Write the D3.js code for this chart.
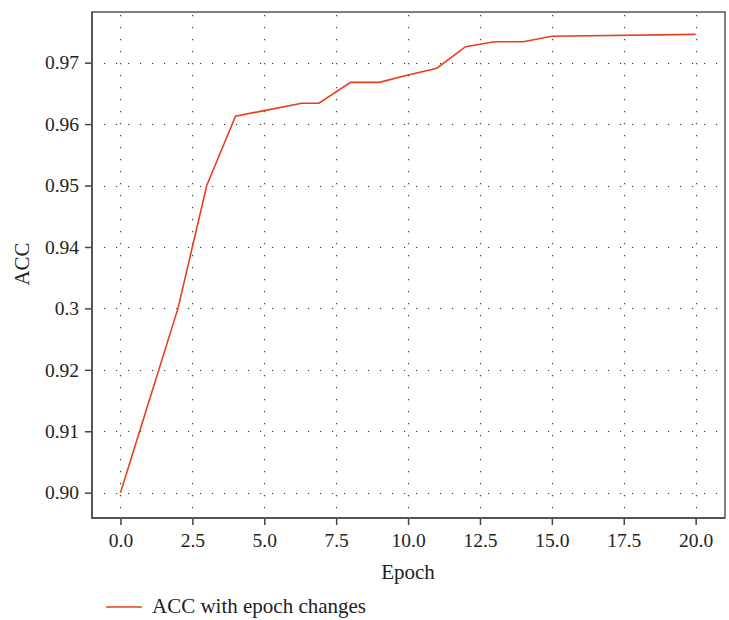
<!DOCTYPE html>
<html>
<head>
<meta charset="utf-8">
<script src="https://cdn.jsdelivr.net/npm/d3@7"></script>
<style>
  body { margin: 0; background: #fff; }
  svg text { font-family: "Liberation Serif", "DejaVu Serif", serif; fill: #222; }
</style>
</head>
<body>
<svg id="chart" width="729" height="620"></svg>
<script>
// data
var epochs = [0, 1, 2, 3, 4, 5, 6.3, 6.9, 8, 9, 10, 11, 12, 13, 14, 15, 20];
var accValues = [0.900, 0.915, 0.930, 0.950, 0.9613, 0.9622, 0.9634, 0.9634, 0.9668, 0.9668, 0.9680, 0.9691, 0.9726, 0.9734, 0.9734, 0.9743, 0.9746];
var xTicks = [0, 2.5, 5, 7.5, 10, 12.5, 15, 17.5, 20];
var yTicks = [0.90, 0.91, 0.92, 0.93, 0.94, 0.95, 0.96, 0.97];
var yTickLabels = ["0.90", "0.91", "0.92", "0.3", "0.94", "0.95", "0.96", "0.97"];
var seriesName = "ACC with epoch changes";

var lineColor = "#e8401e";
var plotLeft = 92, plotRight = 725, plotTop = 12, plotBottom = 518;

var svg = d3.select("#chart");

var x = d3.scaleLinear().domain([-0.99, 21.02]).range([plotLeft, plotRight]);
var y = d3.scaleLinear().domain([0.89588, 0.97825]).range([plotBottom, plotTop]);

// grid, dotted
var grid = svg.append("g").attr("stroke", "#333").attr("stroke-width", 1.2)
  .attr("stroke-dasharray", "1.2,10.8");
grid.selectAll(".vg").data(xTicks).enter().append("line")
  .attr("x1", function(d){ return Math.round(x(d)) + 0.5; })
  .attr("x2", function(d){ return Math.round(x(d)) + 0.5; })
  .attr("y1", plotTop + 3).attr("y2", plotBottom);
grid.selectAll(".hg").data(yTicks).enter().append("line")
  .attr("y1", function(d){ return Math.round(y(d)) + 0.5; })
  .attr("y2", function(d){ return Math.round(y(d)) + 0.5; })
  .attr("x1", plotLeft + 12).attr("x2", plotRight);

// frame
svg.append("rect").attr("x", plotLeft).attr("y", plotTop)
  .attr("width", plotRight - plotLeft).attr("height", plotBottom - plotTop)
  .attr("fill", "none").attr("stroke", "#555").attr("stroke-width", 1.5);

// axes
var xAxis = svg.append("g").attr("transform", "translate(0," + plotBottom + ")")
  .call(d3.axisBottom(x).tickValues(xTicks).tickFormat(d3.format(".1f")).tickSize(7).tickPadding(8));
var yAxis = svg.append("g").attr("transform", "translate(" + plotLeft + ",0)")
  .call(d3.axisLeft(y).tickValues(yTicks).tickFormat(function(d, i){ return yTickLabels[i]; }).tickSize(7).tickPadding(6));
[xAxis, yAxis].forEach(function(a){
  a.select(".domain").remove();
  a.selectAll(".tick line").attr("stroke", "#444").attr("stroke-width", 1.5);
  a.selectAll(".tick text").attr("font-size", 19.5).attr("fill", "#1a1a1a")
    .style("font-family", '"Liberation Serif", "DejaVu Serif", serif');
});
svg.append("line").attr("x1", plotLeft).attr("x2", plotLeft).attr("y1", plotTop).attr("y2", plotBottom + 1)
  .attr("stroke", "#555").attr("stroke-width", 2);
svg.append("line").attr("x1", plotLeft).attr("x2", plotRight).attr("y1", plotBottom).attr("y2", plotBottom)
  .attr("stroke", "#555").attr("stroke-width", 2);

// line
var pts = epochs.map(function(e, i){ return [e, accValues[i]]; });
svg.append("path").datum(pts)
  .attr("fill", "none").attr("stroke", lineColor).attr("stroke-width", 1.6)
  .attr("d", d3.line().x(function(d){ return x(d[0]); }).y(function(d){ return y(d[1]); }));

// axis titles
svg.append("text").attr("x", 408).attr("y", 579).attr("text-anchor", "middle")
  .attr("font-size", 21).text("Epoch");
svg.append("text").attr("transform", "translate(29,264) rotate(-90)").attr("text-anchor", "middle")
  .attr("font-size", 21).text("ACC");

// legend
svg.append("line").attr("x1", 106).attr("x2", 142).attr("y1", 607).attr("y2", 607)
  .attr("stroke", lineColor).attr("stroke-width", 1.6);
svg.append("text").attr("x", 152).attr("y", 613).attr("font-size", 21).text(seriesName);
</script>
</body>
</html>
